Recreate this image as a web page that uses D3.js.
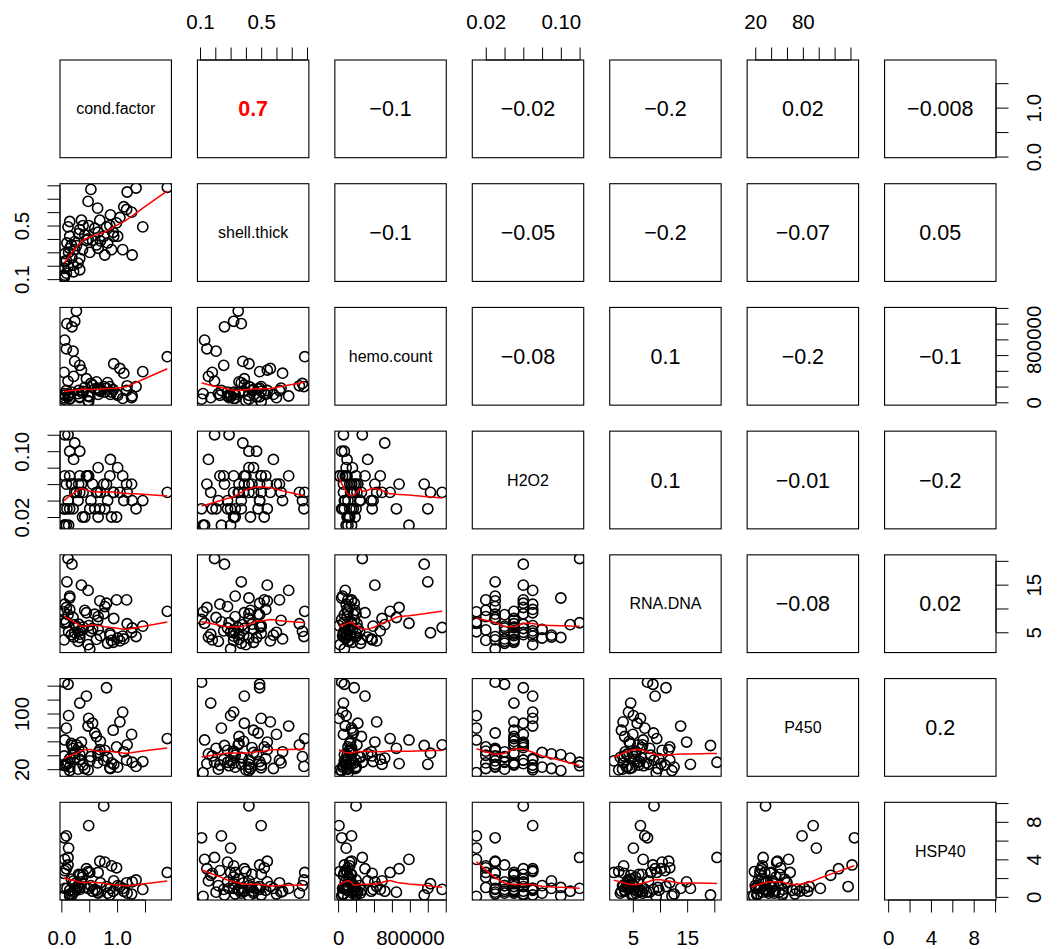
<!DOCTYPE html>
<html>
<head>
<meta charset="utf-8">
<script src="https://cdn.jsdelivr.net/npm/d3@7"></script>
<style>
  body { margin: 0; background: #fff; }
  svg { display: block; }
  text { font-family: "Liberation Sans", Arial, Helvetica, sans-serif; fill: #000; }
</style>
</head>
<body>
<svg id="chart" width="1057" height="949"></svg>
<script>
// ---- variables shown on the diagonal ----
const varNames = ["cond.factor", "shell.thick", "hemo.count", "H2O2", "RNA.DNA", "P450", "HSP40"];

// ---- observations (one entry per animal) ----
const condFactor = [0.53,1.18,1.34,1.90,0.48,0.65,1.12,1.17,1.26,0.88,
  0.69,1.05,0.15,0.36,0.39,0.12,0.33,0.81,0.87,0.99,
  1.46,0.93,0.94,0.66,0.45,0.48,0.24,0.18,0.15,0.63,
  0.66,1.10,1.27,0.78,0.06,0.09,0.33,0.30,0.12,0.21,
  0.33,0.09,0.06,0.05,0.05,0.24,0.42,0.19,0.51,0.56,
  0.27,0.06,0.70,0.83,1.01,0.60,0.15,0.38,0.76,0.49,
  0.10,0.22,0.05,0.31,0.90,0.13];

const shellThick = [0.77,0.75,0.78,0.785,0.68,0.63,0.64,0.62,0.60,0.58,
  0.54,0.56,0.53,0.54,0.50,0.49,0.47,0.49,0.50,0.52,
  0.49,0.45,0.42,0.45,0.39,0.40,0.38,0.355,0.33,0.355,
  0.33,0.32,0.28,0.28,0.29,0.24,0.255,0.22,0.195,0.205,
  0.17,0.145,0.13,0.18,0.11,0.32,0.43,0.26,0.30,0.39,
  0.35,0.23,0.385,0.37,0.42,0.48,0.42,0.32,0.42,0.50,
  0.37,0.155,0.12,0.44,0.32,0.30];

const hemoCount = [240000,210000,200000,580000,80000,180000,370000,150000,60000,100000,
  150000,430000,100000,410000,140000,70000,70000,180000,200000,110000,
  390000,160000,490000,160000,300000,20000,520000,130000,50000,260000,
  100000,50000,80000,130000,60000,150000,470000,110000,270000,650000,
  60000,680000,790000,380000,40000,1030000,190000,960000,70000,220000,
  1160000,90000,140000,250000,90000,170000,40000,120000,200000,10000,
  1000000,330000,110000,150000,130000,90000];

const h2o2 = [0.04,0.05,0.03,0.05,0.07,0.05,0.04,0.06,0.06,0.09,
  0.03,0.05,0.07,0.06,0.05,0.04,0.10,0.06,0.07,0.02,
  0.04,0.05,0.05,0.08,0.07,0.07,0.11,0.06,0.03,0.05,
  0.02,0.07,0.04,0.03,0.12,0.01,0.07,0.04,0.12,0.03,
  0.05,0.06,0.01,0.03,0.03,0.05,0.02,0.06,0.03,0.06,
  0.05,0.07,0.05,0.04,0.08,0.03,0.10,0.02,0.06,0.07,
  0.03,0.09,0.01,0.06,0.02,0.01];

const rnaDna = [5.2,6.8,4.1,9.4,13.8,7.5,3.6,11.8,5.0,4.4,
  11.6,3.2,9.8,14.9,6.1,8.7,3.9,11.1,4.8,11.8,
  6.3,2.9,7.9,5.6,9.1,2.4,6.6,4.5,12.6,3.5,
  8.3,4.2,5.9,10.4,7.0,7.2,5.3,3.1,20.5,8.1,
  4.6,10.2,6.9,3.4,7.7,4.9,9.6,19.3,1.5,5.8,
  6.0,10.9,4.3,2.7,3.8,8.8,12.2,5.5,8.9,6.4,
  15.6,4.0,9.3,6.7,3.3,5.1];

const p450 = [38,55,24,64,82,29,45,33,70,21,
  48,88,35,59,26,142,41,137,22,52,
  31,76,27,44,125,19,36,57,23,67,
  40,102,30,47,25,79,34,20,30,50,
  115,28,62,39,145,43,21,54,32,86,
  55,26,60,37,23,72,18,46,33,93,
  27,42,15,51,29,97];

const hsp40 = [1.2,0.4,1.8,2.6,0.9,0.5,0.6,1.5,0.3,0.9,
  3.8,1.1,0.7,1.6,2.4,3.4,1.0,1.1,0.2,3.1,
  0.8,0.6,1.7,0.4,3.0,2.7,0.6,1.9,0.3,0.7,
  2.6,0.9,1.6,3.7,0.9,6.5,0.8,1.2,4.2,0.5,
  2.3,3.0,4.0,2.5,6.3,1.4,1.0,0.2,2.6,0.6,
  0.8,2.8,1.5,0.4,1.2,0.8,0.1,2.1,9.7,7.6,
  0.9,1.7,0.05,2.4,3.3,5.2];

// ---- correlations printed in the upper panels (row by row) ----
const corrValues = [0.7, -0.1, -0.02, -0.2, 0.02, -0.008,
  -0.1, -0.05, -0.2, -0.07, 0.05,
  -0.08, 0.1, -0.2, -0.1,
  0.1, -0.01, -0.2,
  -0.08, 0.02,
  0.2];
const corrSignificant = [1, 0, 0, 0, 0, 0,
  0, 0, 0, 0, 0,
  0, 0, 0, 0,
  0, 0, 0,
  0, 0,
  0];

// ---- axis ticks and the labels printed beside them ("" = tick only) ----
const condTicks = [0, 0.5, 1.0, 1.5];
const condLabels = ["0.0", "", "1.0", ""];
const shellTicks = [0.1, 0.2, 0.3, 0.4, 0.5, 0.6, 0.7, 0.8];
const shellLabels = ["0.1", "", "", "", "0.5", "", "", ""];
const hemoTicks = [0, 200000, 400000, 600000, 800000, 1000000, 1200000];
const hemoLabels = ["0", "", "", "", "800000", "", ""];
const h2o2Ticks = [0.02, 0.04, 0.06, 0.08, 0.10, 0.12];
const h2o2Labels = ["0.02", "", "", "", "0.10", ""];
const rnaTicks = [5, 10, 15, 20];
const rnaLabels = ["5", "", "15", ""];
const p450Ticks = [20, 40, 60, 80, 100, 120, 140];
const p450TopLabels = ["20", "", "", "80", "", "", ""];
const p450LeftLabels = ["20", "", "", "", "100", "", ""];
const hspTicks = [0, 2, 4, 6, 8, 10];
const hspLabels = ["0", "", "4", "", "8", ""];

// ---- assemble per-variable table ----
const columns = [condFactor, shellThick, hemoCount, h2o2, rnaDna, p450, hsp40];
const vars = varNames.map((name, k) => ({ name, values: columns[k] }));
vars[0].ticks = condTicks;  vars[0].labels = { bottom: condLabels, right: condLabels };
vars[1].ticks = shellTicks; vars[1].labels = { top: shellLabels, left: shellLabels };
vars[2].ticks = hemoTicks;  vars[2].labels = { bottom: hemoLabels, right: hemoLabels };
vars[3].ticks = h2o2Ticks;  vars[3].labels = { top: h2o2Labels, left: h2o2Labels };
vars[4].ticks = rnaTicks;   vars[4].labels = { bottom: rnaLabels, right: rnaLabels };
vars[5].ticks = p450Ticks;  vars[5].labels = { top: p450TopLabels, left: p450LeftLabels };
vars[6].ticks = hspTicks;   vars[6].labels = { bottom: hspLabels, right: hspLabels };

// padded data range, 4% on each side
vars.forEach(v => {
  const [lo, hi] = d3.extent(v.values);
  const pad = 0.04 * (hi - lo);
  v.domain = [lo - pad, hi + pad];
});

// ---- locally weighted scatterplot smoother (Cleveland's lowess) ----
function lowess(xIn, yIn, f = 2 / 3, nsteps = 3) {
  const n = xIn.length;
  const order = d3.range(n).sort((a, b) => xIn[a] - xIn[b]);
  const x = order.map(k => xIn[k]);
  const y = order.map(k => yIn[k]);
  const ys = new Array(n).fill(0), rw = new Array(n).fill(1);
  const res = new Array(n).fill(0), w = new Array(n).fill(0);
  const range = x[n - 1] - x[0];
  const delta = 0.01 * range;
  const ns = Math.max(2, Math.min(n, Math.floor(f * n + 1e-7)));

  function lowest(xs, nleft, nright, userw) {
    const h = Math.max(xs - x[nleft], x[nright] - xs);
    const h9 = 0.999 * h, h1 = 0.001 * h;
    let a = 0, j = nleft;
    while (j < n) {
      w[j] = 0;
      const r = Math.abs(x[j] - xs);
      if (r <= h9) {
        w[j] = r <= h1 ? 1 : Math.pow(1 - Math.pow(r / h, 3), 3);
        if (userw) w[j] *= rw[j];
        a += w[j];
      } else if (x[j] > xs) break;
      j++;
    }
    const nrt = j - 1;
    if (a <= 0) return null;
    for (j = nleft; j <= nrt; j++) w[j] /= a;
    if (h > 0) {
      a = 0;
      for (j = nleft; j <= nrt; j++) a += w[j] * x[j];
      let b = xs - a, c = 0;
      for (j = nleft; j <= nrt; j++) c += w[j] * (x[j] - a) * (x[j] - a);
      if (Math.sqrt(c) > 0.001 * range) {
        b /= c;
        for (j = nleft; j <= nrt; j++) w[j] *= (b * (x[j] - a) + 1);
      }
    }
    let s = 0;
    for (j = nleft; j <= nrt; j++) s += w[j] * y[j];
    return s;
  }

  for (let iter = 1; iter <= nsteps + 1; iter++) {
    let nleft = 0, nright = ns - 1, last = -1, i = 0;
    do {
      if (nright < n - 1) {
        const d1 = x[i] - x[nleft], d2 = x[nright + 1] - x[i];
        if (d1 > d2) { nleft++; nright++; continue; }
      }
      const v = lowest(x[i], nleft, nright, iter > 1);
      ys[i] = v === null ? y[i] : v;
      if (last < i - 1) {
        const denom = x[i] - x[last];
        for (let j = last + 1; j < i; j++) {
          const alpha = (x[j] - x[last]) / denom;
          ys[j] = alpha * ys[i] + (1 - alpha) * ys[last];
        }
      }
      last = i;
      const cut = x[last] + delta;
      for (i = last + 1; i < n; i++) {
        if (x[i] > cut) break;
        if (x[i] === x[last]) { ys[i] = ys[last]; last = i; }
      }
      i = Math.max(last + 1, i - 1);
    } while (last < n - 1);
    for (let k = 0; k < n; k++) res[k] = y[k] - ys[k];
    if (iter > nsteps) break;
    const absr = res.map(Math.abs);
    const sorted = absr.slice().sort((a, b) => a - b);
    const m1 = Math.floor(n / 2);
    const cmad = n % 2 === 0 ? 3 * (sorted[m1] + sorted[m1 - 1]) : 6 * sorted[m1];
    if (cmad < 1e-7 * d3.mean(y, Math.abs)) break;
    const c9 = 0.999 * cmad, c1 = 0.001 * cmad;
    for (let k = 0; k < n; k++) {
      const r = absr[k];
      rw[k] = r <= c1 ? 1 : r <= c9 ? Math.pow(1 - Math.pow(r / cmad, 2), 2) : 0;
    }
  }
  return x.map((xv, k) => [xv, ys[k]]);
}

// ---- layout ----
const svg = d3.select("#chart");
const nVar = vars.length;
const gridLeft = 60, gridTop = 60, gridRight = 996, gridBottom = 900, gap = 26;
const pw = (gridRight - gridLeft - (nVar - 1) * gap) / nVar;
const ph = (gridBottom - gridTop - (nVar - 1) * gap) / nVar;
const tickLen = 12.5, labelOffset = 38;
const fmtCorr = v => String(v).replace("-", "\u2212");

const defs = svg.append("defs");
defs.append("clipPath").attr("id", "panel-clip")
  .append("rect").attr("width", pw).attr("height", ph);

function drawAxis(g, side, scale, v) {
  const labels = v.labels[side];
  const gen = (side === "top" ? d3.axisTop : side === "bottom" ? d3.axisBottom :
               side === "left" ? d3.axisLeft : d3.axisRight)(scale)
    .tickValues(v.ticks)
    .tickSize(tickLen)
    .tickFormat((d, i) => labels[i]);
  const ax = g.append("g").attr("class", "axis").call(gen);
  ax.select(".domain").remove();
  ax.selectAll(".tick line").attr("stroke", "#000").attr("stroke-width", 1);
  // axis line running from the first to the last tick
  const p0 = scale(v.ticks[0]), p1 = scale(v.ticks[v.ticks.length - 1]);
  const horizontal = side === "top" || side === "bottom";
  ax.append("line")
    .attr("x1", horizontal ? p0 : 0).attr("x2", horizontal ? p1 : 0)
    .attr("y1", horizontal ? 0 : p0).attr("y2", horizontal ? 0 : p1)
    .attr("stroke", "#000").attr("stroke-width", 1);
  const txt = ax.selectAll(".tick text")
    .attr("font-size", 20.5)
    .attr("font-family", '"Liberation Sans", Arial, Helvetica, sans-serif')
    .attr("fill", "#000")
    .attr("dy", "0.35em")
    .attr("text-anchor", "middle");
  if (side === "top") txt.attr("x", 0).attr("y", -labelOffset);
  if (side === "bottom") txt.attr("x", 0).attr("y", labelOffset);
  if (side === "left") txt.attr("x", 0).attr("y", 0)
    .attr("transform", `translate(${-labelOffset},0) rotate(-90)`);
  if (side === "right") txt.attr("x", 0).attr("y", 0)
    .attr("transform", `translate(${labelOffset},0) rotate(-90)`);
}

let corrIndex = 0;
for (let i = 0; i < nVar; i++) {
  for (let j = 0; j < nVar; j++) {
    const g = svg.append("g")
      .attr("transform", `translate(${gridLeft + j * (pw + gap)},${gridTop + i * (ph + gap)})`);
    const xs = d3.scaleLinear().domain(vars[j].domain).range([0, pw]);
    const ys = d3.scaleLinear().domain(vars[i].domain).range([ph, 0]);

    if (i > j) {
      // scatter with smoother
      const pts = vars[j].values.map((xv, k) => [xv, vars[i].values[k]]);
      const body = g.append("g").attr("clip-path", "url(#panel-clip)");
      body.selectAll("circle").data(pts).join("circle")
        .attr("cx", d => xs(d[0])).attr("cy", d => ys(d[1]))
        .attr("r", 5.1)
        .attr("fill", "none").attr("stroke", "#000").attr("stroke-width", 1.6);
      const smooth = lowess(vars[j].values, vars[i].values);
      body.append("path").datum(smooth)
        .attr("d", d3.line().x(d => xs(d[0])).y(d => ys(d[1])))
        .attr("fill", "none").attr("stroke", "#ff0000").attr("stroke-width", 1.5);
    } else if (i < j) {
      const k = corrIndex++;
      const sig = corrSignificant[k] === 1;
      g.append("text")
        .attr("x", pw / 2).attr("y", ph / 2).attr("dy", "0.35em")
        .attr("text-anchor", "middle")
        .attr("font-size", 21.5)
        .attr("font-weight", sig ? "bold" : "normal")
        .style("fill", sig ? "#ff0000" : "#000")
        .text(fmtCorr(corrValues[k]));
    } else {
      g.append("text")
        .attr("x", pw / 2).attr("y", ph / 2).attr("dy", "0.35em")
        .attr("text-anchor", "middle")
        .attr("font-size", 16)
        .text(vars[i].name);
    }

    // panel frame
    g.append("rect").attr("width", pw).attr("height", ph)
      .attr("fill", "none").attr("stroke", "#000").attr("stroke-width", 1.1);

    // outer axes alternate between sides
    if (i === 0 && j % 2 === 1) drawAxis(g, "top", xs, vars[j]);
    if (i === nVar - 1 && j % 2 === 0) drawAxis(g.append("g").attr("transform", `translate(0,${ph})`), "bottom", xs, vars[j]);
    if (j === 0 && i % 2 === 1) drawAxis(g, "left", ys, vars[i]);
    if (j === nVar - 1 && i % 2 === 0) drawAxis(g.append("g").attr("transform", `translate(${pw},0)`), "right", ys, vars[i]);
  }
}
</script>
</body>
</html>
